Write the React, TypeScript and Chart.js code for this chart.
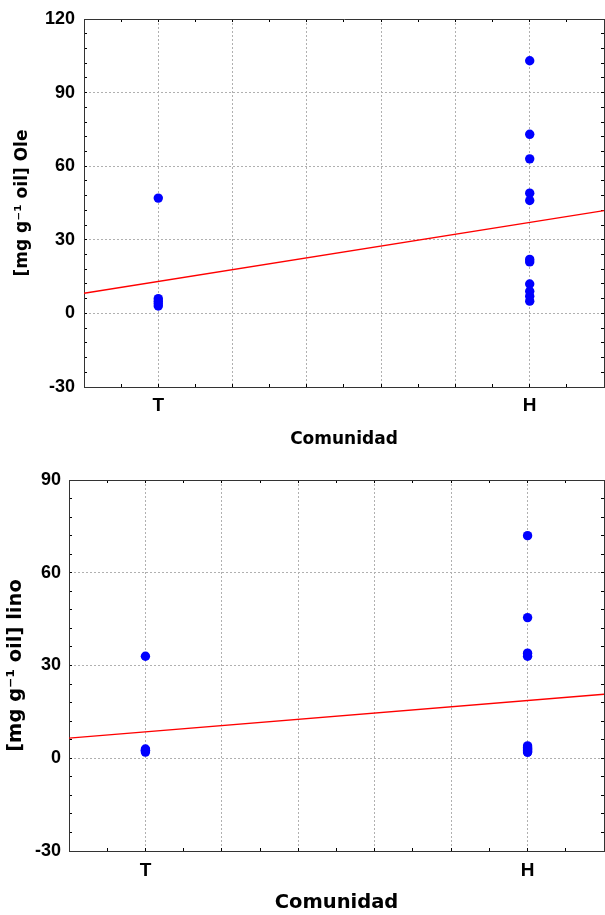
import React, { useEffect, useRef } from 'react';
import { Chart, registerables } from 'chart.js';

Chart.register(...registerables);

// ---- data ----
const categories = ['T', 'H'];
const categoryX = [1, 2];
const xRange = [0.8, 2.2];

const oleT = [47, 6, 5, 4, 3];
const oleH = [103, 73, 63, 49, 46, 22, 21, 12, 9, 7, 5];
const oleFit = [8.2, 41.9];
const oleYTicks = [-30, 0, 30, 60, 90, 120];

const linoT = [33, 3, 2.5, 2.5, 2];
const linoH = [72, 45.5, 34, 33, 4, 3.5, 3, 3, 2.5, 2, 2];
const linoFit = [6.5, 20.7];
const linoYTicks = [-30, 0, 30, 60, 90];

const xTitle = 'Comunidad';
const oleTitle = '[mg g⁻¹ oil] Ole';
const linoTitle = '[mg g⁻¹ oil] lino';

// ---- styles ----
const GRID = '#b0b0b0';
const FRAME = '#333333';
const TICK_FAMILY = "'Liberation Sans', Arial, sans-serif";
const TITLE_FAMILY = "'DejaVu Sans', sans-serif";

type Layout = {
  width: number;
  height: number;
  top: number;
  yAxisW: number;
  xAxisH: number;
  yTickPad: number;
  xTickPad: number;
  yTitlePad: number;
  xTitlePad: number;
  titleSize: number;
};

function buildConfig(t: number[], h: number[], fit: number[], yTicks: number[], yTitle: string, L: Layout): any {
  const yMin = yTicks[0];
  const yMax = yTicks[yTicks.length - 1];
  const points = [
    ...t.map((y) => ({ x: categoryX[0], y })),
    ...h.map((y) => ({ x: categoryX[1], y })),
  ];
  const xLabel = (v: number) => {
    const i = categoryX.findIndex((c) => Math.abs(c - v) < 1e-6);
    return i >= 0 ? categories[i] : '';
  };
  const xGridOn = (v: number) => {
    const k = Math.round(v * 10);
    return k % 2 === 0 && v > xRange[0] + 1e-6 && v < xRange[1] - 1e-6;
  };
  const yGridOn = (v: number) => yTicks.includes(v) && v !== yMin && v !== yMax;
  const titleFont = { family: TITLE_FAMILY, size: L.titleSize, weight: 'bold' };
  const zeroPad = (s: any) => {
    s.paddingLeft = 0;
    s.paddingRight = 0;
    s.paddingTop = 0;
    s.paddingBottom = 0;
  };

  return {
    type: 'scatter',
    data: {
      datasets: [
        {
          type: 'scatter',
          data: points,
          backgroundColor: '#0000ff',
          borderColor: '#0000ff',
          borderWidth: 0,
          pointRadius: 4.7,
          showLine: false,
        },
        {
          type: 'line',
          data: [
            { x: xRange[0], y: fit[0] },
            { x: xRange[1], y: fit[1] },
          ],
          borderColor: '#ff0000',
          borderWidth: 1.4,
          pointRadius: 0,
          fill: false,
          tension: 0,
        },
      ],
    },
    options: {
      responsive: false,
      animation: false,
      events: [],
      layout: { autoPadding: false, padding: { left: 0, right: 1, top: L.top, bottom: 0 } },
      plugins: { legend: { display: false }, tooltip: { enabled: false } },
      scales: {
        x: {
          type: 'linear',
          position: 'bottom',
          min: xRange[0],
          max: xRange[1],
          ticks: {
            stepSize: 0.1,
            autoSkip: false,
            maxRotation: 0,
            padding: L.xTickPad,
            color: '#000',
            font: { family: TICK_FAMILY, size: 19, weight: 'bold' },
            callback: (v: number) => xLabel(v),
          },
          grid: {
            color: (c: any) => (xGridOn(c.tick.value) ? GRID : 'rgba(0,0,0,0)'),
            borderDash: [2, 2],
            tickColor: '#000',
            tickLength: -3,
            lineWidth: 1,
          },
          border: { display: true, color: FRAME, width: 1, dash: [2, 2] },
          title: {
            display: true,
            text: xTitle,
            color: '#000',
            font: titleFont,
            padding: { top: 0, bottom: L.xTitlePad },
          },
          afterFit: (s: any) => {
            s.height = L.xAxisH;
            zeroPad(s);
          },
        },
        x2: {
          type: 'linear',
          position: 'top',
          min: xRange[0],
          max: xRange[1],
          ticks: { display: false, stepSize: 0.1, autoSkip: false },
          grid: { drawOnChartArea: false, tickColor: '#000', tickLength: -3 },
          border: { display: true, color: FRAME, width: 1 },
          afterFit: (s: any) => {
            s.height = 0;
            zeroPad(s);
          },
        },
        y: {
          type: 'linear',
          position: 'left',
          min: yMin,
          max: yMax,
          ticks: {
            stepSize: 6,
            autoSkip: false,
            padding: L.yTickPad,
            color: '#000',
            font: { family: TICK_FAMILY, size: 18, weight: 'bold' },
            callback: (v: number) => (yTicks.includes(v) ? String(v) : ''),
          },
          grid: {
            color: (c: any) => (yGridOn(c.tick.value) ? GRID : 'rgba(0,0,0,0)'),
            borderDash: [2, 2],
            tickColor: '#000',
            tickLength: -3,
            lineWidth: 1,
          },
          border: { display: true, color: FRAME, width: 1, dash: [2, 2] },
          title: {
            display: true,
            text: yTitle,
            color: '#000',
            font: titleFont,
            padding: { top: L.yTitlePad, bottom: 0 },
          },
          afterFit: (s: any) => {
            s.width = L.yAxisW;
            zeroPad(s);
          },
        },
        y2: {
          type: 'linear',
          position: 'right',
          min: yMin,
          max: yMax,
          ticks: { display: false, stepSize: 6, autoSkip: false },
          grid: { drawOnChartArea: false, tickColor: '#000', tickLength: -3 },
          border: { display: true, color: FRAME, width: 1 },
          afterFit: (s: any) => {
            s.width = 0;
            zeroPad(s);
          },
        },
      },
    },
  };
}

function ScatterPanel(props: {
  t: number[];
  h: number[];
  fit: number[];
  yTicks: number[];
  yTitle: string;
  L: Layout;
}) {
  const ref = useRef<HTMLCanvasElement | null>(null);
  useEffect(() => {
    if (!ref.current) return;
    const chart = new Chart(ref.current, buildConfig(props.t, props.h, props.fit, props.yTicks, props.yTitle, props.L));
    return () => chart.destroy();
  }, []);
  return (
    <canvas
      ref={ref}
      width={props.L.width}
      height={props.L.height}
      style={{ display: 'block', width: props.L.width, height: props.L.height }}
    />
  );
}

const layout1: Layout = {
  width: 605,
  height: 455,
  top: 19,
  yAxisW: 84,
  xAxisH: 68,
  yTickPad: 12,
  xTickPad: 10,
  yTitlePad: 12,
  xTitlePad: 5,
  titleSize: 17,
};

const layout2: Layout = {
  width: 605,
  height: 460,
  top: 25,
  yAxisW: 69,
  xAxisH: 64,
  yTickPad: 11,
  xTickPad: 11,
  yTitlePad: 4,
  xTitlePad: 0,
  titleSize: 19.5,
};

export default function App() {
  return (
    <div style={{ position: 'absolute', left: 0, top: 0, width: 605, height: 915, background: '#fff' }}>
      <div style={{ position: 'absolute', left: 0, top: 0 }}>
        <ScatterPanel t={oleT} h={oleH} fit={oleFit} yTicks={oleYTicks} yTitle={oleTitle} L={layout1} />
      </div>
      <div style={{ position: 'absolute', left: 0, top: 455 }}>
        <ScatterPanel t={linoT} h={linoH} fit={linoFit} yTicks={linoYTicks} yTitle={linoTitle} L={layout2} />
      </div>
    </div>
  );
}
